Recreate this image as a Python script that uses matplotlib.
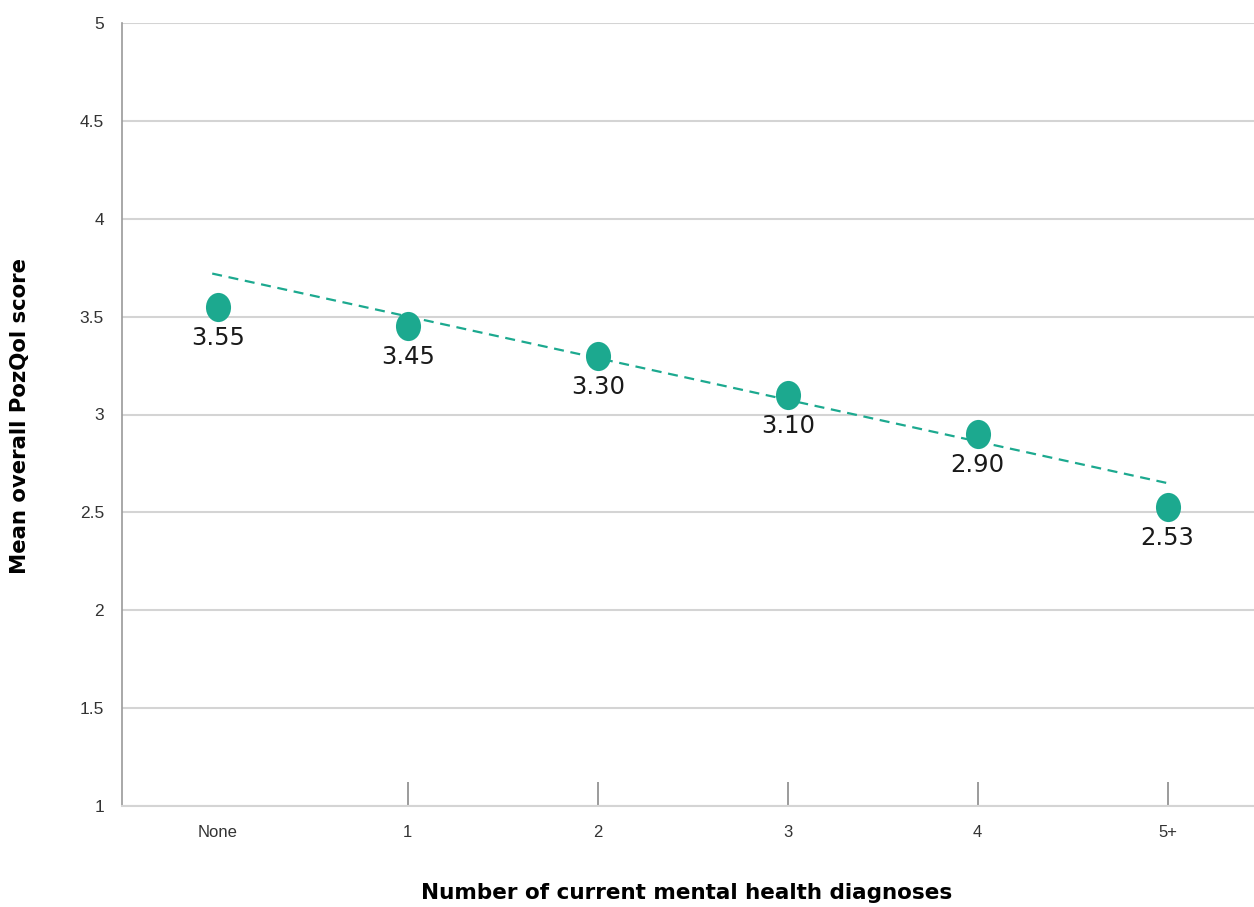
import matplotlib
matplotlib.use("Agg")
import matplotlib.pyplot as plt
from matplotlib.path import Path
from matplotlib.transforms import Affine2D

# data
categories = ["None", "1", "2", "3", "4", "5+"]
mean_scores = [3.55, 3.45, 3.30, 3.10, 2.90, 2.53]
score_labels = ["3.55", "3.45", "3.30", "3.10", "2.90", "2.53"]
trend_x = [-0.03, 5.02]
trend_y = [3.72, 2.645]
y_ticks = [1, 1.5, 2, 2.5, 3, 3.5, 4, 4.5, 5]
y_tick_labels = ["1", "1.5", "2", "2.5", "3", "3.5", "4", "4.5", "5"]

teal = "#1CA98F"
grid_col = "#d4d4d4"

fig = plt.figure(figsize=(12.54, 9.07), dpi=100)
ax = fig.add_axes([122 / 1254, 1 - 806 / 907, 1 - 122 / 1254, (806 - 23) / 907])

xs = list(range(len(categories)))

# slightly tall ellipse marker, like the reference
ell = Path.unit_circle().transformed(Affine2D().scale(0.86, 1.0))

ax.plot(trend_x, trend_y, color=teal, lw=1.6, ls=(0, (4.5, 3)), zorder=3)
ax.plot(xs, mean_scores, ls="none", marker=ell, ms=21, color=teal,
        markeredgewidth=0, zorder=4)

for x, y, s in zip(xs, mean_scores, score_labels):
    ax.annotate(s, (x, y), xytext=(0, -31), textcoords="offset pixels",
                ha="center", va="center", fontsize=17.5, color="#1a1a1a",
                family="DejaVu Sans", zorder=5)

ax.set_xlim(-0.505, 5.455)
ax.set_ylim(1, 5)
ax.set_yticks(y_ticks)
ax.set_yticklabels(y_tick_labels, family="Liberation Sans", fontsize=12.5, color="#333333")
ax.set_xticks(xs)
ax.set_xticklabels(categories, family="Liberation Sans", fontsize=12, color="#333333")
ax.tick_params(axis="y", length=0, pad=13)
ax.tick_params(axis="x", direction="in", length=17, width=1.2, color="#8a8a8a", pad=14)
ax.xaxis.get_major_ticks()[0].tick1line.set_visible(False)

ax.grid(axis="y", color=grid_col, lw=1.5)
ax.set_axisbelow(True)
for side in ["top", "right"]:
    ax.spines[side].set_visible(False)
ax.spines["left"].set_color("#9a9a9a")
ax.spines["left"].set_linewidth(1.2)
ax.spines["bottom"].set_color(grid_col)
ax.spines["bottom"].set_linewidth(1.5)

fig.text(687 / 1254, 1 - 893 / 907, "Number of current mental health diagnoses",
         ha="center", va="center", fontsize=15.5, fontweight="bold", family="DejaVu Sans")
fig.text(20 / 1254, 1 - 416 / 907, "Mean overall PozQol score", rotation=90,
         ha="center", va="center", fontsize=15.3, fontweight="bold", family="DejaVu Sans")

fig.savefig("out.png", dpi=100)
